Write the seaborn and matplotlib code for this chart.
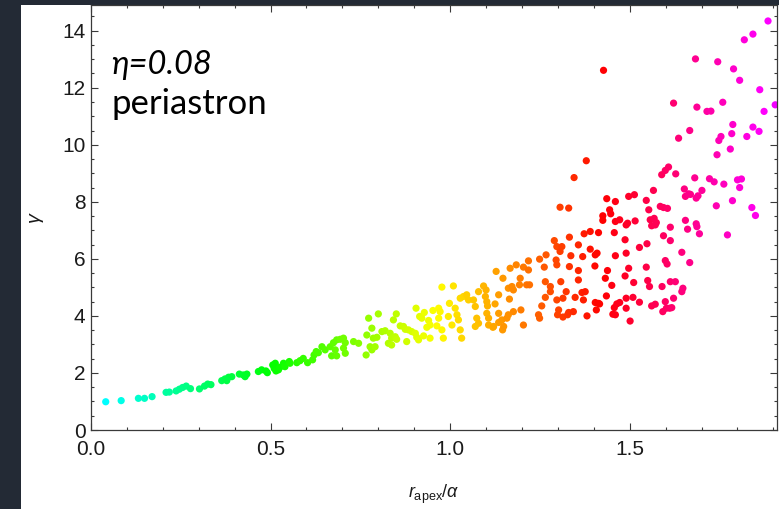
import colorsys

import matplotlib
matplotlib.use("Agg")
import matplotlib.pyplot as plt
from matplotlib.colors import ListedColormap
from matplotlib.patches import Rectangle
from matplotlib.ticker import MultipleLocator
import numpy as np
import pandas as pd
import seaborn as sns

# (r_apex / alpha, gamma) samples, grouped by colour band
band_cyan_green = [
    (0.041, 0.99), (0.084, 1.03), (0.132, 1.11), (0.149, 1.11), (0.170, 1.17),
    (0.209, 1.32), (0.218, 1.33), (0.237, 1.37), (0.246, 1.43), (0.255, 1.49),
    (0.265, 1.54), (0.277, 1.45), (0.302, 1.44), (0.316, 1.54), (0.325, 1.61),
    (0.334, 1.59), (0.364, 1.73), (0.373, 1.79), (0.383, 1.85), (0.392, 1.87),
    (0.378, 1.73), (0.413, 1.96), (0.424, 1.93), (0.434, 1.96), (0.429, 1.87),
    (0.466, 2.05), (0.475, 2.11), (0.487, 2.07), (0.491, 2.01), (0.506, 2.28),
    (0.513, 2.34), (0.510, 2.16), (0.515, 2.07), (0.522, 2.11), (0.526, 2.20),
    (0.536, 2.34), (0.540, 2.22), (0.552, 2.40), (0.554, 2.34), (0.573, 2.36),
    (0.582, 2.43), (0.591, 2.51), (0.603, 2.36), (0.617, 2.46), (0.621, 2.63),
    (0.627, 2.75), (0.633, 2.71),
]

band_green_lime = [
    (0.643, 2.92), (0.652, 2.81), (0.666, 2.92), (0.675, 3.06), (0.680, 2.81),
    (0.684, 3.16), (0.694, 3.18), (0.703, 3.22), (0.708, 3.06), (0.703, 2.87),
    (0.708, 2.69), (0.670, 2.60), (0.684, 2.60), (0.731, 3.10), (0.745, 3.04),
    (0.766, 2.63), (0.777, 2.92), (0.782, 2.81), (0.791, 2.92), (0.768, 3.33),
    (0.782, 3.57), (0.800, 4.07), (0.773, 3.92), (0.786, 3.22), (0.796, 3.25),
    (0.810, 3.45), (0.819, 3.48), (0.833, 3.39), (0.837, 3.22), (0.828, 3.04),
    (0.837, 2.98), (0.847, 3.27), (0.851, 3.18), (0.850, 4.07), (0.842, 3.86),
    (0.861, 3.65), (0.870, 3.63), (0.875, 3.53), (0.884, 3.51), (0.893, 3.45),
    (0.903, 3.39), (0.907, 3.25), (0.912, 3.16), (0.879, 3.10),
]

band_yellow_orange = [
    (0.905, 4.27), (0.915, 3.98), (0.921, 3.92), (0.928, 4.12), (0.940, 3.84),
    (0.944, 3.68), (0.935, 3.60), (0.952, 4.19), (0.968, 4.27), (0.972, 4.15),
    (0.968, 3.92), (0.963, 3.65), (0.977, 3.51), (0.981, 3.22), (0.926, 3.30),
    (0.944, 3.22), (0.977, 5.01), (1.009, 5.05), (0.998, 4.44), (0.995, 3.98),
    (1.005, 3.68), (1.014, 4.27), (1.019, 4.04), (1.023, 3.86), (1.028, 3.51),
    (1.032, 3.22), (1.028, 4.62), (1.037, 4.68), (1.046, 4.74), (1.051, 4.56),
    (1.065, 4.56), (1.070, 4.33), (1.074, 3.92), (1.079, 3.74), (1.070, 3.63),
    (1.093, 5.05), (1.100, 4.91), (1.098, 4.68), (1.102, 4.50), (1.079, 4.85),
    (1.102, 4.09), (1.107, 3.68), (1.104, 4.35), (1.107, 3.92), (1.119, 3.60),
    (1.146, 3.51), (1.135, 3.77),
]

band_orange_red = [
    (1.125, 4.42), (1.135, 4.74), (1.135, 4.09), (1.144, 3.86), (1.121, 3.63),
    (1.149, 3.63), (1.158, 3.92), (1.162, 4.04), (1.176, 4.15), (1.165, 4.59),
    (1.162, 4.97), (1.172, 5.03), (1.176, 4.91), (1.193, 5.09), (1.195, 5.32),
    (1.213, 5.09), (1.221, 5.09), (1.197, 4.21), (1.204, 3.68), (1.128, 5.56),
    (1.147, 5.32), (1.167, 5.67), (1.184, 5.79), (1.204, 5.71), (1.218, 5.61),
    (1.218, 5.93), (1.249, 5.99), (1.262, 5.71), (1.267, 6.14), (1.295, 5.96),
    (1.297, 5.79), (1.290, 6.64), (1.297, 6.43), (1.311, 6.43), (1.306, 6.26),
    (1.332, 6.76), (1.332, 5.73), (1.336, 6.11), (1.357, 6.49), (1.369, 6.08),
    (1.373, 6.88), (1.390, 6.34), (1.390, 6.96), (1.413, 6.92), (1.404, 6.14),
    (1.409, 6.20), (1.357, 5.59), (1.357, 5.26), (1.308, 5.20), (1.265, 5.20),
    (1.279, 5.03), (1.279, 4.85), (1.265, 4.65), (1.255, 4.35), (1.246, 4.04),
    (1.249, 3.92), (1.297, 4.56), (1.314, 4.62), (1.323, 4.85), (1.348, 4.65),
    (1.367, 4.82), (1.376, 4.85), (1.371, 4.56), (1.302, 4.21), (1.299, 4.04),
    (1.314, 3.96), (1.327, 4.04), (1.330, 4.12), (1.343, 4.15), (1.381, 4.00),
    (1.404, 4.47), (1.407, 4.21), (1.413, 4.44), (1.306, 7.81), (1.330, 7.78),
    (1.345, 8.85), (1.379, 9.44), (1.427, 12.61),
]

band_red_pink = [
    (1.436, 8.11), (1.460, 8.01), (1.497, 8.19), (1.513, 8.25), (1.444, 7.72),
    (1.447, 7.58), (1.425, 7.51), (1.425, 7.35), (1.460, 7.31), (1.472, 7.37),
    (1.490, 7.19), (1.494, 7.25), (1.515, 7.33), (1.457, 6.92), (1.487, 6.67),
    (1.460, 6.11), (1.490, 6.20), (1.527, 6.40), (1.548, 6.53), (1.403, 5.75),
    (1.438, 5.59), (1.432, 5.32), (1.450, 5.07), (1.497, 5.67), (1.487, 5.40),
    (1.511, 5.17), (1.546, 5.71), (1.550, 5.24), (1.555, 5.03), (1.590, 5.03),
    (1.435, 4.70), (1.416, 4.42), (1.457, 4.29), (1.464, 4.42), (1.472, 4.47),
    (1.453, 4.06), (1.460, 4.04), (1.490, 4.62), (1.509, 4.65), (1.527, 4.48),
    (1.490, 4.27), (1.501, 3.82), (1.561, 4.35), (1.571, 4.41), (1.592, 4.15),
    (1.602, 4.27), (1.611, 4.27), (1.617, 4.29), (1.599, 4.50), (1.622, 4.62),
    (1.613, 5.20), (1.627, 5.20), (1.648, 4.97), (1.645, 4.85), (1.599, 5.94),
    (1.604, 5.82), (1.546, 8.05), (1.566, 8.40), (1.553, 7.72), (1.557, 7.37),
    (1.568, 7.42), (1.561, 7.16), (1.571, 7.19), (1.574, 7.27), (1.585, 7.84),
    (1.594, 7.80), (1.605, 7.77), (1.613, 7.11), (1.594, 6.81), (1.613, 6.64),
    (1.589, 8.95), (1.599, 9.10), (1.608, 9.22), (1.628, 8.98), (1.652, 8.45),
    (1.655, 8.19), (1.664, 8.28), (1.655, 7.35), (1.661, 7.04), (1.645, 6.23),
    (1.667, 5.87),
]

band_magenta = [
    (1.667, 10.50), (1.787, 10.71), (1.843, 10.62), (1.860, 10.47), (1.754, 10.29),
    (1.748, 10.15), (1.784, 10.39), (1.826, 10.29), (1.780, 9.85), (1.743, 9.65),
    (1.681, 8.84), (1.722, 8.81), (1.735, 8.70), (1.762, 8.62), (1.800, 8.77),
    (1.811, 8.80), (1.806, 8.50), (1.669, 8.26), (1.685, 8.13), (1.690, 8.21),
    (1.701, 8.40), (1.741, 7.86), (1.786, 8.04), (1.840, 7.80), (1.850, 7.52),
    (1.685, 7.23), (1.687, 7.13), (1.694, 6.88), (1.772, 6.84), (1.819, 13.68),
    (1.683, 13.01), (1.745, 12.91), (1.789, 12.66), (1.806, 12.26), (1.862, 11.93),
    (1.622, 11.46), (1.687, 11.32), (1.715, 11.17), (1.726, 11.18), (1.759, 11.49),
    (1.874, 11.17), (1.905, 11.40), (1.636, 10.23), (1.885, 14.34), (1.843, 13.88),
]

x_ticks = [0.0, 0.5, 1.0, 1.5]
x_tick_labels = ["0.0", "0.5", "1.0", "1.5"]
y_ticks = [0, 2, 4, 6, 8, 10, 12, 14]
y_tick_labels = ["0", "2", "4", "6", "8", "10", "12", "14"]
x_range = (0.0, 1.91)
y_range = (0.0, 14.9)

bands = (band_cyan_green, band_green_lime, band_yellow_orange,
         band_orange_red, band_red_pink, band_magenta)
df = pd.DataFrame([p for band in bands for p in band], columns=["r_apex", "gamma"])

# rainbow colouring along r_apex: cyan at the origin, sweeping through
# green, yellow and red to magenta at the right edge
t = np.linspace(x_range[0], x_range[1], 256)
hue_cmap = ListedColormap(
    [colorsys.hsv_to_rgb(((185.0 - 130.0 * v) / 360.0) % 1.0, 1.0, 1.0) for v in t]
)

sns.set_style("ticks")
plt.rcParams["font.family"] = ["Liberation Sans", "DejaVu Sans"]
plt.rcParams["mathtext.fontset"] = "custom"
plt.rcParams["mathtext.rm"] = "Liberation Sans"
plt.rcParams["mathtext.it"] = "Liberation Sans:italic"

W, H = 779, 509
fig = plt.figure(figsize=(W / 100, H / 100), dpi=100, facecolor="#232a35")
fig.patches.append(Rectangle((21 / W, 0), 1 - 21 / W, 504 / H,
                             transform=fig.transFigure, facecolor="white",
                             edgecolor="none", zorder=-10))

ax = fig.add_axes([91 / W, 79 / H, (777 - 91) / W, (430 - 5) / H])
ax.set_facecolor("white")

sns.scatterplot(data=df, x="r_apex", y="gamma", hue="r_apex",
                palette=hue_cmap, hue_norm=x_range, legend=False,
                s=27, linewidth=0, ax=ax)

ax.set_xlim(*x_range)
ax.set_ylim(*y_range)
ax.set_xticks(x_ticks, x_tick_labels)
ax.set_yticks(y_ticks, y_tick_labels)
ax.xaxis.set_minor_locator(MultipleLocator(0.1))
ax.yaxis.set_minor_locator(MultipleLocator(0.5))

for side in ax.spines.values():
    side.set_color("#3a3a3a")
    side.set_linewidth(0.9)

ax.tick_params(which="both", direction="in", top=True, right=True,
               color="#3a3a3a", width=0.8)
ax.tick_params(which="major", length=5, labelsize=15, labelcolor="#1a1a1a")
ax.tick_params(which="minor", length=2.5)
ax.tick_params(axis="x", which="major", pad=7)
ax.tick_params(axis="y", which="major", pad=4)

ax.set_xlabel(r"$r_{\rm apex}/\alpha$", fontsize=13, color="#1a1a1a")
ax.set_ylabel(r"$\gamma$", fontsize=14, color="#1a1a1a")
ax.xaxis.set_label_coords(0.5, -0.125)
ax.yaxis.set_label_coords(-0.066, 0.5)

ax.text(0.030, 0.838, "η=0.08", transform=ax.transAxes, fontsize=23.5,
        fontstyle="italic", family=["Lato", "DejaVu Sans"], color="black",
        ha="left", va="baseline")
ax.text(0.030, 0.744, "periastron", transform=ax.transAxes, fontsize=25,
        family=["Lato", "DejaVu Sans"], color="black",
        ha="left", va="baseline")

fig.savefig("out.png", dpi=100, facecolor=fig.get_facecolor())
